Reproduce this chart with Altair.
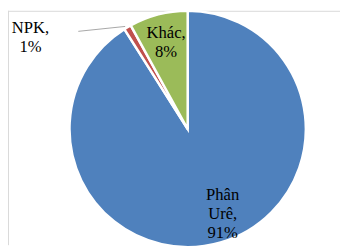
import altair as alt
import pandas as pd

categories = ["Phân Urê", "NPK", "Khác"]
shares = [91, 1, 8]
label_lines = ["Phân\nUrê,\n91%", "NPK,\n1%", "Khác,\n8%"]
slice_order = [0, 1, 2]
colors = ["#4F81BD", "#C0504D", "#9BBB59"]

df = pd.DataFrame({
    "cat": categories,
    "share": shares,
    "label": label_lines,
    "ord": slice_order,
})

CX, CY, R = 184, 121, 121
FONT = "Liberation Serif"

base = alt.Chart(df).encode(
    theta=alt.Theta("share:Q", stack=True),
    order=alt.Order("ord:Q"),
)

pie = base.mark_arc(radius=R, x=CX, y=CY, stroke="white", strokeWidth=2.5).encode(
    color=alt.Color("cat:N", scale=alt.Scale(domain=categories, range=colors), legend=None)
)


def inside_label(name, dx, dy):
    return base.transform_calculate(
        t=f"datum.cat == '{name}' ? datum.label : ''"
    ).mark_text(
        radius=89, x=CX, y=CY, dx=dx, dy=dy, font=FONT, fontSize=17,
        lineBreak="\n", lineHeight=19.5, color="black", align="center", baseline="middle"
    ).encode(text="t:N")


urea_text = inside_label("Phân Urê", 11, -18)
khac_text = inside_label("Khác", 0, -12)

npk = alt.Chart(df).transform_filter("datum.cat == 'NPK'").mark_text(
    x=23, y=18, font=FONT, fontSize=17, lineBreak="\n", lineHeight=19,
    color="black", align="center", baseline="middle"
).encode(text="label:N")

leader = alt.Chart(df).transform_filter("datum.cat == 'NPK'").mark_rule(
    color="#A6A6A6", strokeWidth=1
).encode(x=alt.value(72), y=alt.value(21), x2=alt.value(120), y2=alt.value(16))

frame_top = alt.Chart(df).transform_filter("datum.ord == 0").mark_rule(
    color="#D9D9D9", strokeWidth=1
).encode(x=alt.value(0), x2=alt.value(340), y=alt.value(0.5))
frame_left = alt.Chart(df).transform_filter("datum.ord == 0").mark_rule(
    color="#D9D9D9", strokeWidth=1
).encode(x=alt.value(0.5), y=alt.value(0), y2=alt.value(240))

chart = alt.layer(frame_top, frame_left, leader, pie, urea_text, khac_text, npk).properties(
    width=340, height=240,
    autosize=alt.AutoSizeParams(type="none"),
    padding=0,
).configure_view(stroke=None)

chart.save("out.html", embed_options={"renderer": "svg", "actions": False})
